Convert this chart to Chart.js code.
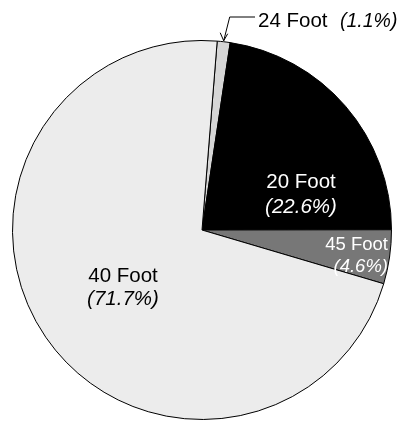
<!DOCTYPE html>
<html lang="en">
<head>
  <meta charset="UTF-8">
  <title>Container sizes</title>
  <script src="https://cdn.jsdelivr.net/npm/chart.js@4.4.0/dist/chart.umd.min.js"></script>
  <style>
    body {
      margin: 0;
      background-color: #ffffff;
      font-family: "Liberation Sans", Arial, sans-serif;
    }
    .chart-container {
      width: 400px;
      height: 421px;
      position: relative;
    }
  </style>
</head>
<body>
  <div class="chart-container">
    <canvas id="pie-chart"></canvas>
  </div>

  <script>
    // Datos del gráfico
    const categories = ['24 Foot', '20 Foot', '45 Foot', '40 Foot'];
    const shares = [1.1, 22.6, 4.6, 71.7];
    const sliceColors = ['#d6d6d6', '#000000', '#777777', '#ececec'];

    // Etiquetas: posición (línea base), alineación y color de texto
    const labelStyles = [
      null,
      { x: 301, y: 188, align: 'center', color: '#ffffff', size: 20.5, gap: 25 },
      { x: 388, y: 250, align: 'right', color: '#ffffff', size: 18.5, gap: 22 },
      { x: 123, y: 282, align: 'center', color: '#000000', size: 20.5, gap: 23 }
    ];

    const labelPlugin = {
      id: 'sliceLabels',
      afterDraw(chart) {
        const ctx = chart.ctx;
        ctx.save();
        ctx.textBaseline = 'alphabetic';
        categories.forEach((name, i) => {
          const pct = '(' + shares[i].toFixed(1) + '%)';
          const s = labelStyles[i];
          if (!s) return;
          ctx.fillStyle = s.color;
          ctx.textAlign = s.align;
          ctx.font = s.size + 'px "Liberation Sans", Arial, sans-serif';
          ctx.fillText(name, s.x, s.y);
          ctx.font = 'italic ' + s.size + 'px "Liberation Sans", Arial, sans-serif';
          ctx.fillText(pct, s.x, s.y + s.gap);
        });

        // Etiqueta exterior con flecha para el sector pequeño
        const arc = chart.getDatasetMeta(0).data[0];
        const mid = (arc.startAngle + arc.endAngle) / 2;
        const tipX = arc.x + Math.cos(mid) * arc.outerRadius;
        const tipY = arc.y + Math.sin(mid) * arc.outerRadius;
        const elbowX = tipX + 6, elbowY = 17;
        ctx.strokeStyle = '#000000';
        ctx.lineWidth = 1;
        ctx.beginPath();
        ctx.moveTo(255, elbowY);
        ctx.lineTo(elbowX, elbowY);
        ctx.lineTo(tipX, tipY - 1);
        ctx.stroke();
        ctx.beginPath();
        ctx.moveTo(tipX - 3.5, tipY - 9);
        ctx.lineTo(tipX, tipY - 1);
        ctx.lineTo(tipX + 4, tipY - 8);
        ctx.stroke();

        ctx.fillStyle = '#000000';
        ctx.textAlign = 'left';
        ctx.font = '20.5px "Liberation Sans", Arial, sans-serif';
        ctx.fillText(categories[0], 258, 27);
        ctx.font = 'italic 19.5px "Liberation Sans", Arial, sans-serif';
        ctx.fillText('(' + shares[0].toFixed(1) + '%)', 340, 27);
        ctx.restore();
      }
    };

    const ctx = document.getElementById('pie-chart').getContext('2d');
    const chart = new Chart(ctx, {
      type: 'pie',
      data: {
        labels: categories,
        datasets: [{
          data: shares,
          backgroundColor: sliceColors,
          borderColor: '#000000',
          borderWidth: 1
        }]
      },
      options: {
        responsive: true,
        maintainAspectRatio: false,
        animation: false,
        rotation: 4.6,
        layout: {
          padding: { left: 12, right: 8, top: 40, bottom: 1 }
        },
        plugins: {
          legend: { display: false },
          tooltip: { enabled: false }
        }
      },
      plugins: [labelPlugin]
    });
  </script>
</body>
</html>
